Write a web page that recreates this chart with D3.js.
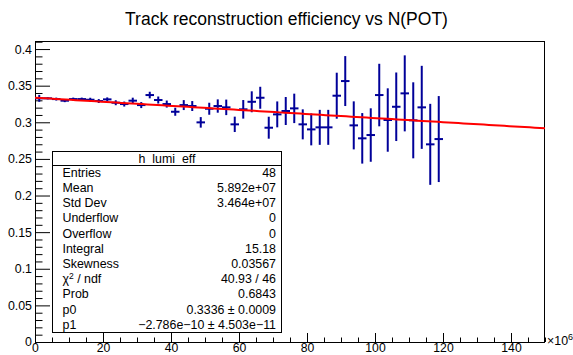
<!DOCTYPE html>
<html>
<head>
<meta charset="utf-8">
<script src="https://cdn.jsdelivr.net/npm/d3@7"></script>
<style>
  body { margin: 0; background: #fff; }
  svg { display: block; }
  text { font-family: "Liberation Sans", Arial, Helvetica, sans-serif; }
</style>
</head>
<body>
<div id="chart"></div>
<script>
// bin centres in units of 1e6 POT
const binCenters = [1.25, 3.75, 6.25, 8.75, 11.25, 13.75, 16.25, 18.75, 21.25, 23.75,
  26.25, 28.75, 31.25, 33.75, 36.25, 38.75, 41.25, 43.75, 46.25, 48.75,
  51.25, 53.75, 56.25, 58.75, 61.25, 63.75, 66.25, 68.75, 71.25, 73.75,
  76.25, 78.75, 81.25, 83.75, 86.25, 88.75, 91.25, 93.75, 96.25, 98.75,
  101.25, 103.75, 106.25, 108.75, 111.25, 113.75, 116.25, 118.75];
const binWidth = 2.5;

const efficiency = [0.3327, 0.3327, 0.3317, 0.3295, 0.3317, 0.3317, 0.3308, 0.3290, 0.3313, 0.3267,
  0.3249, 0.3295, 0.3235, 0.3372, 0.3304, 0.3249, 0.3144, 0.3235, 0.3222, 0.2999,
  0.3185, 0.3222, 0.3204, 0.2972, 0.3177, 0.3280, 0.3335, 0.2926, 0.3108, 0.3154,
  0.3190, 0.2972, 0.2903, 0.2931, 0.2931, 0.3363, 0.3563, 0.2958, 0.2781, 0.2826,
  0.3372, 0.3031, 0.3212, 0.3395, 0.3027, 0.3204, 0.2699, 0.2771];

const errors = [0.0047, 0.0014, 0.0020, 0.0020, 0.0020, 0.0020, 0.0027, 0.0027, 0.0027, 0.0034,
  0.0034, 0.0041, 0.0041, 0.0045, 0.0048, 0.0048, 0.0055, 0.0068, 0.0068, 0.0072,
  0.0082, 0.0091, 0.0106, 0.0105, 0.0127, 0.0143, 0.0150, 0.0150, 0.0177, 0.0191,
  0.0201, 0.0205, 0.0218, 0.0239, 0.0239, 0.0314, 0.0341, 0.0328, 0.0345, 0.0365,
  0.0427, 0.0433, 0.0468, 0.0519, 0.0519, 0.0567, 0.0553, 0.0587];

// linear fit pol1
const p0 = 0.3336;
const p1 = -2.786e-10;

const xMajorTicks = [0, 20, 40, 60, 80, 100, 120, 140];
const yMajorTicks = [0, 0.05, 0.1, 0.15, 0.2, 0.25, 0.3, 0.35, 0.4];

const statsTitle = "h_lumi_eff";
const statsNames = ["Entries", "Mean", "Std Dev", "Underflow", "Overflow", "Integral",
  "Skewness", "CHI2", "Prob", "p0", "p1"];
const statsValues = ["48", "5.892e+07", "3.464e+07", "0", "0", "15.18",
  "0.03567", "40.93 / 46", "0.6843", "0.3336 \u00b1 0.0009", "\u22122.786e\u221210 \u00b1 4.503e\u221211"];

const width = 573, height = 355;
const frame = { left: 35, right: 545, top: 41, bottom: 342 };

const svg = d3.select("#chart").append("svg")
    .attr("width", width)
    .attr("height", height);

const x = d3.scaleLinear().domain([0, 150]).range([frame.left, frame.right]);
const y = d3.scaleLinear().domain([0, 0.411]).range([frame.bottom, frame.top]);

// title
svg.append("text")
    .attr("x", width / 2)
    .attr("y", 25)
    .attr("text-anchor", "middle")
    .attr("font-size", 17.5)
    .text("Track reconstruction efficiency vs N(POT)");

// minor ticks
const xMinor = d3.range(0, 151, 5).filter(v => v % 20 !== 0);
const yMinor = d3.range(0, 42).map(i => i / 100).filter(v => Math.round(v * 100) % 5 !== 0);

svg.append("g")
    .attr("transform", `translate(0,${frame.bottom})`)
    .call(d3.axisBottom(x).tickValues(xMinor).tickSize(-4.5).tickFormat(""))
    .call(g => g.select(".domain").remove());

svg.append("g")
    .attr("transform", `translate(${frame.left},0)`)
    .call(d3.axisLeft(y).tickValues(yMinor).tickSize(-7.5).tickFormat(""))
    .call(g => g.select(".domain").remove());

// major ticks and labels
const xAxis = svg.append("g")
    .attr("transform", `translate(0,${frame.bottom})`)
    .call(d3.axisBottom(x).tickValues(xMajorTicks).tickSize(-9).tickPadding(1.5).tickFormat(d3.format("d")))
    .call(g => g.select(".domain").remove());
xAxis.selectAll("text").attr("font-size", 12.2).attr("fill", "#000")
    .attr("font-family", "'Liberation Sans', Arial, sans-serif");

const yAxis = svg.append("g")
    .attr("transform", `translate(${frame.left},0)`)
    .call(d3.axisLeft(y).tickValues(yMajorTicks).tickSize(-15).tickPadding(3)
        .tickFormat(d => String(+d.toFixed(2))))
    .call(g => g.select(".domain").remove());
yAxis.selectAll("text").attr("font-size", 12.4).attr("fill", "#000")
    .attr("font-family", "'Liberation Sans', Arial, sans-serif");

// frame
svg.append("rect")
    .attr("x", frame.left + 0.5)
    .attr("y", frame.top + 0.5)
    .attr("width", frame.right - frame.left - 1)
    .attr("height", frame.bottom - frame.top)
    .attr("fill", "none")
    .attr("stroke", "#000");

// x10^6 exponent
const expo = svg.append("text")
    .attr("x", frame.right + 2)
    .attr("y", 345)
    .attr("font-size", 12.4);
expo.append("tspan").text("\u00d710");
expo.append("tspan").attr("dy", -5).attr("font-size", 9).text("6");

// data points with error bars
const points = binCenters.map((c, i) => ({ c, v: efficiency[i], e: errors[i] }));
const marks = svg.append("g")
    .attr("stroke", "#000099")
    .attr("stroke-width", 2);

marks.selectAll("line.h")
    .data(points)
    .join("line")
    .attr("class", "h")
    .attr("x1", d => x(d.c - binWidth / 2))
    .attr("x2", d => x(d.c + binWidth / 2))
    .attr("y1", d => y(d.v))
    .attr("y2", d => y(d.v));

marks.selectAll("line.v")
    .data(points)
    .join("line")
    .attr("class", "v")
    .attr("x1", d => x(d.c))
    .attr("x2", d => x(d.c))
    .attr("y1", d => y(d.v - d.e))
    .attr("y2", d => y(d.v + d.e));

// fit function
const fitX = d3.range(0, 151, 1.5);
svg.append("path")
    .datum(fitX)
    .attr("fill", "none")
    .attr("stroke", "#ff0000")
    .attr("stroke-width", 2)
    .attr("d", d3.line()
        .x(d => x(d))
        .y(d => y(p0 + p1 * d * 1e6)));

// stats box
const box = { x: 52.5, y: 151.5, w: 229, h: 181 };
const stats = svg.append("g");
stats.append("rect")
    .attr("x", box.x).attr("y", box.y)
    .attr("width", box.w).attr("height", box.h)
    .attr("fill", "#fff")
    .attr("stroke", "#000");
stats.append("line")
    .attr("x1", box.x).attr("x2", box.x + box.w)
    .attr("y1", 165.5).attr("y2", 165.5)
    .attr("stroke", "#000");
stats.append("text")
    .attr("x", box.x + box.w / 2)
    .attr("y", 162.5)
    .attr("text-anchor", "middle")
    .attr("font-size", 12.4)
    .text(statsTitle);

const rowY = i => 172.3 + i * 15.2 + 4.4;
statsNames.forEach((name, i) => {
    const t = stats.append("text")
        .attr("x", 62.5)
        .attr("y", rowY(i))
        .attr("font-size", 12.4);
    if (name === "CHI2") {
        t.append("tspan").text("\u03c7");
        t.append("tspan").attr("dy", -4).attr("font-size", 8.5).text("2");
        t.append("tspan").attr("dy", 4).text(" / ndf");
    } else {
        t.text(name);
    }
    stats.append("text")
        .attr("x", 276)
        .attr("y", rowY(i))
        .attr("text-anchor", "end")
        .attr("font-size", 12.4)
        .text(statsValues[i]);
});
</script>
</body>
</html>
